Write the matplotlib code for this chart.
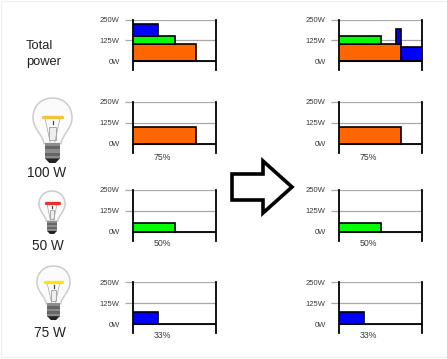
import matplotlib
matplotlib.use('Agg')
import matplotlib.pyplot as plt
from matplotlib.path import Path
from matplotlib.patches import PathPatch, Polygon, Rectangle

plt.rcParams['font.family'] = ['Liberation Sans', 'DejaVu Sans']

# valors llegits del grafic
power_ticks = [0, 125, 250]
tick_labels = ['0W', '125W', '250W']
orange = '#ff6600'
green = '#00ff00'
blue = '#0000ff'

# cada barra: inici x, amplada, base, alcada, color
total_before = [(0, 0.755, 0, 100, orange), (0, 0.5, 100, 50, green), (0, 0.305, 150, 75, blue)]
total_after = [(0, 0.75, 0, 100, orange), (0, 0.505, 100, 50, green),
               (0.68, 0.07, 100, 95, blue), (0.75, 0.25, 0, 85, blue)]
bulb_before = [(0, 0.755, 0, 100, orange)]
bulb_after = [(0, 0.75, 0, 100, orange)]
green_only = [(0, 0.5, 0, 50, green)]
blue_only = [(0, 0.305, 0, 75, blue)]

percent_labels = ['75%', '50%', '33%']
bulb_labels = ['100 W', '50 W', '75 W']

W, H = 447, 359
row_top = [19.7, 102, 190, 282.3]
row_zero = [61, 143.7, 231.7, 324.3]
percent_y = [157.7, 243.3, 336]
col_left = [133, 339]
panel_w = 83.3
below = 9


def DrawPanel(fig, x0, top, zero, bars):
    bottom = zero + below
    ax = fig.add_axes([x0 / W, 1 - bottom / H, panel_w / W, (bottom - top) / H])
    ax.set_xlim(0, 1)
    ax.set_ylim(-250 * below / (zero - top), 250)
    ax.set_facecolor('none')
    for b in bars:
        ax.bar(b[0], b[3], width=b[1], bottom=b[2], align='edge', color=b[4],
               edgecolor='black', linewidth=1.2, zorder=3)
    ax.axhline(0, color='black', linewidth=1.3, zorder=4)
    ax.set_xticks([])
    ax.set_yticks(power_ticks)
    ax.set_yticklabels(tick_labels, fontsize=5.5, color='#3a3a3a')
    ax.tick_params(axis='y', length=5.8, width=0.9, color='#a8a8a8', pad=3.8)
    ax.yaxis.get_major_ticks()[0].tick1line.set_visible(False)
    ax.grid(axis='y', color='#a8a8a8', linewidth=0.9, zorder=1)
    ax.set_axisbelow(True)
    for side in ['top', 'bottom']:
        ax.spines[side].set_visible(False)
    for side in ['left', 'right']:
        ax.spines[side].set_linewidth(1.3)
        ax.spines[side].set_color('black')
    return ax


def DrawBulb(ax, cx, top, h, w, filament):
    # coordenades unitaries de la bombeta -> pixels
    def P(u, v):
        return (cx + u * w, top + v * h)

    verts = [P(-0.22, 0.7), P(-0.24, 0.57), P(-0.5, 0.48), P(-0.5, 0.3),
             P(-0.5, 0.1), P(-0.25, 0), P(0, 0),
             P(0.25, 0), P(0.5, 0.1), P(0.5, 0.3),
             P(0.5, 0.48), P(0.24, 0.57), P(0.22, 0.7), P(-0.22, 0.7)]
    codes = [Path.MOVETO] + [Path.CURVE4] * 12 + [Path.CLOSEPOLY]
    ax.add_patch(PathPatch(Path(verts, codes), facecolor='#fbfbfb', edgecolor='#cccccc', linewidth=1.1))
    # suport del filament
    ax.plot(*zip(P(-0.2, 0.29), P(-0.06, 0.68)), color='#a5a5a5', linewidth=0.5)
    ax.plot(*zip(P(0.2, 0.29), P(0.06, 0.68)), color='#a5a5a5', linewidth=0.5)
    ax.add_patch(Rectangle(P(-0.08, 0.45), 0.16 * w, 0.2 * h, facecolor='#eeeeee', edgecolor='#8a8a8a', linewidth=0.5))
    ax.plot(*zip(P(0, 0.36), P(0, 0.4)), color='#444444', linewidth=0.9)
    # filament
    ax.plot(*zip(P(-0.25, 0.29), P(0.25, 0.29)), color=filament, linewidth=2.4, solid_capstyle='round')
    # rosca
    n = 5
    for i in range(n):
        shade = '#8d8d8d' if i % 2 == 0 else '#666666'
        ax.add_patch(Rectangle(P(-0.19, 0.69 + i * 0.05), 0.38 * w, 0.05 * h, facecolor=shade, edgecolor='none'))
    ax.add_patch(Polygon([P(-0.19, 0.93), P(0.19, 0.93), P(0.08, 1), P(-0.08, 1)], facecolor='#222222', edgecolor='none'))


fig = plt.figure(figsize=(W / 100, H / 100), dpi=100, facecolor='white')
deco = fig.add_axes([0, 0, 1, 1])
deco.set_xlim(0, W)
deco.set_ylim(H, 0)
deco.axis('off')

# marc molt clar de la imatge
deco.add_patch(Rectangle((0.5, 0.5), W - 1, H - 2.5, facecolor='none', edgecolor='#f0f0f0', linewidth=1.0))

left_bars = [total_before, bulb_before, green_only, blue_only]
right_bars = [total_after, bulb_after, green_only, blue_only]
for i in range(4):
    DrawPanel(fig, col_left[0], row_top[i], row_zero[i], left_bars[i])
    DrawPanel(fig, col_left[1], row_top[i], row_zero[i], right_bars[i])

for i in range(3):
    for x0 in col_left:
        deco.text(x0 + 29.5, percent_y[i], percent_labels[i], fontsize=6.3, color='#3a3a3a', ha='center', va='center')

deco.text(26, 46, 'Total', fontsize=9.3, color='#222222', ha='left', va='center')
deco.text(26, 62.5, 'power', fontsize=9.3, color='#222222', ha='left', va='center')

DrawBulb(deco, 52.5, 98, 65, 39, '#f3c33c')
DrawBulb(deco, 52, 191, 43, 26, '#e8302c')
DrawBulb(deco, 53.5, 266, 54, 33, '#ffe11a')
deco.text(47, 173, bulb_labels[0], fontsize=9.8, color='#222222', ha='center', va='center')
deco.text(48, 245.5, bulb_labels[1], fontsize=9.8, color='#222222', ha='center', va='center')
deco.text(50, 333, bulb_labels[2], fontsize=9.8, color='#222222', ha='center', va='center')

# fletxa central
deco.add_patch(Polygon([(232, 174), (263, 174), (263, 161), (292, 187), (263, 213), (263, 200), (232, 200)],
                       closed=True, facecolor='white', edgecolor='black', linewidth=2.6, joinstyle='miter'))

fig.savefig('out.png', dpi=100)
